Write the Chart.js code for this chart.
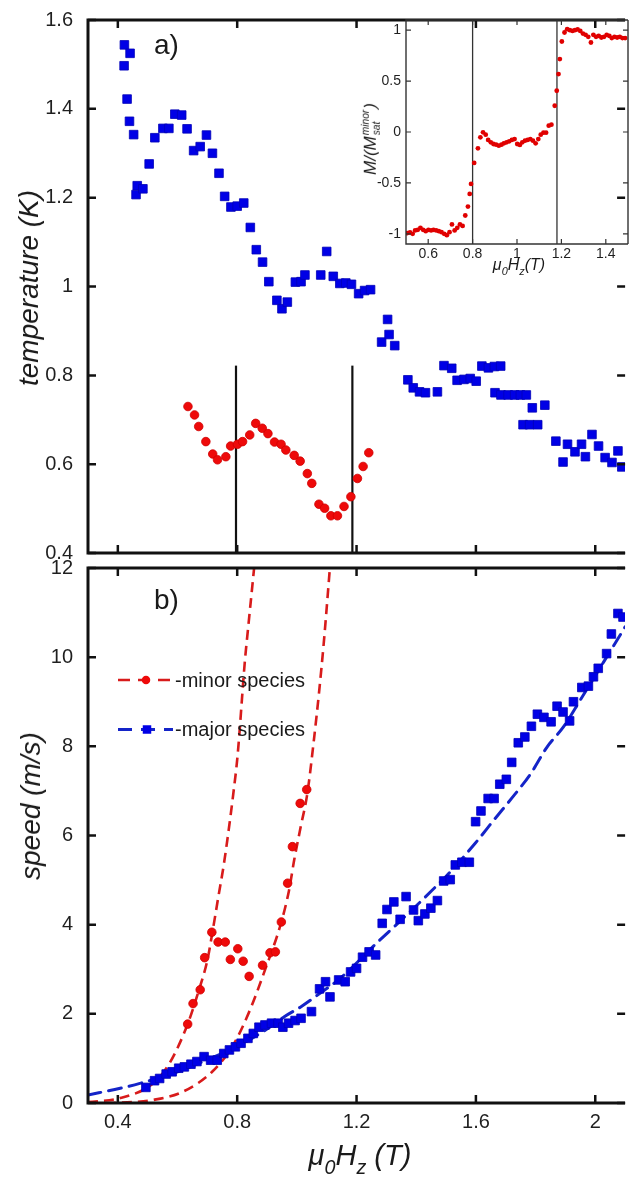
<!DOCTYPE html>
<html>
<head>
<meta charset="utf-8">
<title>temperature and speed vs field</title>
<script src="https://cdn.jsdelivr.net/npm/chart.js@4.4.1/dist/chart.umd.min.js"></script>
<style>
  html, body { margin: 0; padding: 0; background: #fff; overflow: hidden; }
  body { position: relative; width: 632px; height: 1190px; font-family: "Liberation Sans", Arial, Helvetica, sans-serif; color: #1a1a1a; }
  canvas { position: absolute; }
  .txt { position: absolute; white-space: nowrap; line-height: 1; }
  .it { font-style: italic; }
  .rot { transform: translate(-50%, -50%) rotate(-90deg); }
  .sub { font-size: 0.68em; vertical-align: -0.45em; }
  .stack { display: inline-flex; flex-direction: column; font-size: 0.6em; line-height: 1.1; vertical-align: 7px; margin-left: 1px; margin-right: 1px; }
</style>
</head>
<body>
<canvas id="top" width="632" height="560" style="left:0;top:0"></canvas>
<canvas id="bottom" width="632" height="630" style="left:0;top:560px"></canvas>
<canvas id="inset" width="272" height="276" style="left:360px;top:10px"></canvas>

<div class="txt" style="left:154px;top:31px;font-size:28px">a)</div>
<div class="txt" style="left:154px;top:586px;font-size:28px">b)</div>
<div class="txt it rot" style="left:29px;top:288px;font-size:28px">temperature (K)</div>
<div class="txt it rot" style="left:31px;top:806px;font-size:28px">speed (m/s)</div>
<div class="txt it" style="left:360px;top:1141px;font-size:29px;transform:translateX(-50%)">&mu;<span class="sub">0</span>H<span class="sub">z</span> (T)</div>
<div class="txt" style="left:175px;top:670px;font-size:20px">-minor species</div>
<div class="txt" style="left:175px;top:719px;font-size:20px">-major species</div>
<div class="txt it rot" style="left:371px;top:139px;font-size:17px">M/(M<span class="stack"><span>minor</span><span>sat</span></span>)</div>
<div class="txt it" style="left:519px;top:257px;font-size:16px;transform:translateX(-50%)">&mu;<span class="sub">0</span>H<span class="sub">z</span>(T)</div>

<script>
// ---- panel a) : temperature, major species (blue squares)
const majorTempX = [0.421, 0.422, 0.431, 0.439, 0.441, 0.453, 0.461, 0.465, 0.484, 0.505, 0.524, 0.551, 0.571, 0.591, 0.614, 0.632, 0.654, 0.676, 0.697, 0.717, 0.739, 0.758, 0.779, 0.800, 0.822, 0.844, 0.864, 0.885, 0.906, 0.933, 0.950, 0.968, 0.995, 1.014, 1.027, 1.080, 1.100, 1.122, 1.144, 1.164, 1.183, 1.207, 1.227, 1.247, 1.284, 1.304, 1.309, 1.328, 1.372, 1.390, 1.411, 1.431, 1.471, 1.493, 1.519, 1.537, 1.560, 1.581, 1.601, 1.620, 1.642, 1.662, 1.683, 1.664, 1.684, 1.708, 1.730, 1.749, 1.769, 1.758, 1.780, 1.807, 1.789, 1.831, 1.868, 1.892, 1.907, 1.932, 1.954, 1.967, 1.989, 2.011, 2.033, 2.056, 2.076, 2.089];
const majorTempY = [1.497, 1.544, 1.422, 1.372, 1.525, 1.342, 1.207, 1.227, 1.220, 1.276, 1.335, 1.356, 1.356, 1.388, 1.386, 1.355, 1.306, 1.315, 1.341, 1.300, 1.255, 1.203, 1.179, 1.181, 1.188, 1.133, 1.083, 1.055, 1.011, 0.969, 0.950, 0.965, 1.010, 1.011, 1.026, 1.026, 1.079, 1.023, 1.007, 1.008, 1.005, 0.984, 0.991, 0.993, 0.875, 0.926, 0.892, 0.867, 0.790, 0.772, 0.763, 0.761, 0.763, 0.822, 0.816, 0.789, 0.791, 0.793, 0.787, 0.821, 0.817, 0.820, 0.821, 0.761, 0.756, 0.756, 0.756, 0.756, 0.756, 0.689, 0.689, 0.689, 0.727, 0.733, 0.652, 0.605, 0.645, 0.628, 0.645, 0.617, 0.667, 0.641, 0.615, 0.604, 0.630, 0.594];

// ---- panel a) : temperature, minor species (red circles)
const minorTempX = [0.635, 0.657, 0.671, 0.695, 0.718, 0.734, 0.762, 0.778, 0.801, 0.818, 0.842, 0.862, 0.884, 0.903, 0.925, 0.947, 0.963, 0.991, 1.011, 1.035, 1.050, 1.074, 1.093, 1.114, 1.136, 1.158, 1.181, 1.203, 1.222, 1.241];
const minorTempY = [0.730, 0.711, 0.685, 0.651, 0.623, 0.610, 0.617, 0.641, 0.645, 0.651, 0.666, 0.692, 0.681, 0.669, 0.650, 0.645, 0.632, 0.620, 0.607, 0.579, 0.557, 0.510, 0.501, 0.484, 0.484, 0.505, 0.527, 0.568, 0.595, 0.626];

// vertical markers in panel a)
const stepFieldsA = [0.796, 1.186];
const stepLineTop = 0.822;

// ---- inset : normalised magnetisation
const insetX = [0.506, 0.518, 0.530, 0.541, 0.553, 0.565, 0.577, 0.589, 0.601, 0.613, 0.624, 0.636, 0.648, 0.660, 0.672, 0.684, 0.696, 0.707, 0.719, 0.731, 0.743, 0.755, 0.767, 0.779, 0.787, 0.793, 0.807, 0.824, 0.835, 0.847, 0.859, 0.870, 0.882, 0.894, 0.906, 0.918, 0.930, 0.941, 0.953, 0.965, 0.977, 0.989, 1.001, 1.013, 1.024, 1.036, 1.048, 1.060, 1.072, 1.084, 1.096, 1.107, 1.119, 1.131, 1.143, 1.155, 1.170, 1.179, 1.187, 1.193, 1.202, 1.214, 1.226, 1.238, 1.250, 1.261, 1.273, 1.285, 1.297, 1.309, 1.321, 1.333, 1.344, 1.356, 1.368, 1.380, 1.392, 1.404, 1.416, 1.427, 1.439, 1.451, 1.463, 1.475, 1.487];
const insetY = [-0.993, -0.987, -1.000, -0.967, -0.961, -0.941, -0.961, -0.974, -0.961, -0.967, -0.961, -0.967, -0.974, -0.984, -1.000, -1.013, -0.984, -0.908, -0.967, -0.941, -0.908, -0.922, -0.820, -0.732, -0.608, -0.510, -0.304, -0.160, -0.052, -0.003, -0.026, -0.078, -0.101, -0.118, -0.124, -0.134, -0.124, -0.111, -0.101, -0.092, -0.078, -0.069, -0.118, -0.127, -0.101, -0.085, -0.078, -0.069, -0.085, -0.111, -0.069, -0.026, -0.007, -0.007, 0.062, 0.072, 0.258, 0.405, 0.569, 0.716, 0.889, 0.977, 1.010, 1.000, 0.993, 1.000, 1.007, 0.993, 0.967, 0.954, 0.935, 0.879, 0.954, 0.935, 0.944, 0.928, 0.935, 0.954, 0.944, 0.922, 0.935, 0.928, 0.935, 0.922, 0.922];
const stepFieldsInset = [0.8, 1.18];

// ---- panel b) : speed
const minorSpeedX = [0.634, 0.652, 0.676, 0.691, 0.715, 0.736, 0.760, 0.777, 0.802, 0.820, 0.840, 0.885, 0.910, 0.928, 0.948, 0.969, 0.985, 1.011, 1.033];
const minorSpeedY = [1.77, 2.23, 2.54, 3.26, 3.83, 3.61, 3.61, 3.22, 3.46, 3.18, 2.84, 3.09, 3.37, 3.39, 4.06, 4.93, 5.75, 6.72, 7.03];

const majorSpeedX = [0.494, 0.523, 0.540, 0.562, 0.582, 0.604, 0.623, 0.645, 0.665, 0.689, 0.711, 0.733, 0.755, 0.774, 0.794, 0.813, 0.836, 0.854, 0.873, 0.893, 0.915, 0.937, 0.953, 0.972, 0.994, 1.014, 1.049, 1.076, 1.096, 1.111, 1.140, 1.162, 1.180, 1.200, 1.220, 1.242, 1.264, 1.286, 1.302, 1.325, 1.346, 1.366, 1.391, 1.407, 1.429, 1.449, 1.471, 1.492, 1.514, 1.531, 1.553, 1.578, 1.599, 1.617, 1.641, 1.661, 1.680, 1.702, 1.720, 1.742, 1.764, 1.786, 1.806, 1.828, 1.852, 1.872, 1.892, 1.914, 1.927, 1.955, 1.977, 1.994, 2.010, 2.038, 2.054, 2.076, 2.093];
const majorSpeedY = [0.35, 0.50, 0.55, 0.65, 0.70, 0.78, 0.81, 0.87, 0.93, 1.04, 0.96, 0.96, 1.11, 1.19, 1.26, 1.34, 1.45, 1.56, 1.70, 1.75, 1.79, 1.79, 1.70, 1.79, 1.85, 1.90, 2.05, 2.56, 2.72, 2.38, 2.76, 2.72, 2.94, 3.02, 3.27, 3.39, 3.32, 4.03, 4.34, 4.51, 4.12, 4.63, 4.33, 4.09, 4.24, 4.37, 4.54, 4.98, 5.01, 5.34, 5.40, 5.40, 6.31, 6.55, 6.83, 6.83, 7.15, 7.26, 7.64, 8.08, 8.21, 8.45, 8.72, 8.65, 8.55, 8.90, 8.77, 8.57, 9.00, 9.32, 9.35, 9.56, 9.75, 10.08, 10.52, 10.98, 10.90];

// dashed fit curves
const minorFitAX = [0.300, 0.408, 0.518, 0.573, 0.634, 0.672, 0.700, 0.715, 0.737, 0.754, 0.770, 0.787, 0.801, 0.826, 0.837, 0.856, 0.870];
const minorFitAY = [0.02, 0.11, 0.44, 0.89, 1.77, 2.54, 3.20, 3.75, 4.63, 5.30, 6.05, 6.94, 7.77, 9.93, 10.68, 11.95, 12.90];
const minorFitBX = [0.360, 0.450, 0.520, 0.617, 0.716, 0.783, 0.838, 0.893, 0.948, 0.974, 0.991, 1.013, 1.035, 1.057, 1.074, 1.090, 1.110, 1.120];
const minorFitBY = [0.00, 0.02, 0.07, 0.25, 0.70, 1.26, 2.01, 2.98, 4.06, 4.78, 5.45, 6.20, 6.94, 8.14, 9.19, 10.31, 11.95, 12.80];
const majorFitX = [0.300, 0.408, 0.474, 0.600, 0.700, 0.800, 0.900, 0.959, 1.014, 1.069, 1.146, 1.277, 1.332, 1.409, 1.465, 1.498, 1.597, 1.663, 1.729, 1.784, 1.839, 1.894, 1.950, 2.004, 2.049, 2.093, 2.100];
const majorFitY = [0.18, 0.33, 0.44, 0.70, 0.97, 1.27, 1.66, 1.94, 2.16, 2.42, 2.80, 3.65, 3.99, 4.48, 4.85, 5.07, 5.82, 6.37, 6.91, 7.39, 7.99, 8.44, 9.04, 9.63, 10.12, 10.60, 10.68];

// ---- axes
const fieldTicks = [0.4, 0.8, 1.2, 1.6, 2];
const tempTicks = [0.4, 0.6, 0.8, 1, 1.2, 1.4, 1.6];
const speedTicks = [0, 2, 4, 6, 8, 10, 12];
const insetXTicks = [0.6, 0.8, 1, 1.2, 1.4];
const insetYTicks = [-1, -0.5, 0, 0.5, 1];

const BLUE = '#0000e6';
const RED = '#ee0a0a';

Chart.defaults.font.family = '"Liberation Sans", Arial, Helvetica, sans-serif';
Chart.defaults.color = '#1f1f1f';

function pts(xs, ys) {
    return xs.map((x, i) => ({ x: x, y: ys[i] }));
}

function axis(min, max, ticks, extra) {
    const a = {
        type: 'linear',
        min: min,
        max: max,
        grid: { display: false, drawTicks: false },
        border: { display: false },
        afterBuildTicks: s => { s.ticks = ticks.map(v => ({ value: v })); },
        ticks: { autoSkip: false, maxRotation: 0, font: { size: 20 }, padding: 15, callback: v => String(v) }
    };
    return Object.assign(a, extra || {});
}

// fixed axis sizes so the plot areas sit where the reference has them
function fixW(w) {
    return s => { s.width = w; s.paddingTop = 0; s.paddingBottom = 0; s.paddingLeft = 0; s.paddingRight = 0; };
}
function fixH(h) {
    return s => { s.height = h; s.paddingTop = 0; s.paddingBottom = 0; s.paddingLeft = 0; s.paddingRight = 0; };
}

// frame with inward ticks; right border is outside the picture
const framePlugin = {
    id: 'frame',
    afterDatasetsDraw(chart, args, o) {
        const { ctx, chartArea: a } = chart;
        const x = chart.scales.x, y = chart.scales.y;
        ctx.save();
        ctx.strokeStyle = o.color;
        ctx.lineWidth = o.width;
        ctx.beginPath();
        ctx.moveTo(a.left, a.top);
        ctx.lineTo(a.left, a.bottom);
        ctx.moveTo(a.left - o.width / 2, a.bottom);
        ctx.lineTo(a.right, a.bottom);
        ctx.moveTo(a.left - o.width / 2, a.top);
        ctx.lineTo(a.right, a.top);
        if (o.right) {
            ctx.moveTo(a.right, a.top);
            ctx.lineTo(a.right, a.bottom);
        }
        ctx.stroke();
        ctx.lineWidth = o.tickWidth;
        ctx.beginPath();
        o.xTicks.forEach(v => {
            const px = x.getPixelForValue(v);
            ctx.moveTo(px, a.bottom);
            ctx.lineTo(px, a.bottom - o.tickLen);
            ctx.moveTo(px, a.top);
            ctx.lineTo(px, a.top + o.tickLen);
        });
        o.yTicks.forEach(v => {
            const py = y.getPixelForValue(v);
            ctx.moveTo(a.left, py);
            ctx.lineTo(a.left + o.tickLen, py);
            ctx.moveTo(a.right, py);
            ctx.lineTo(a.right - o.tickLen, py);
        });
        ctx.stroke();
        ctx.restore();
    }
};

// legend samples (the legend text is in the page)
const legendPlugin = {
    id: 'speedLegend',
    afterDraw(chart, args, o) {
        const ctx = chart.ctx;
        o.rows.forEach(r => {
            ctx.save();
            ctx.strokeStyle = r.line;
            ctx.lineWidth = r.lw;
            ctx.lineCap = 'butt';
            ctx.setLineDash(r.dash);
            ctx.beginPath();
            ctx.moveTo(r.x0, r.y);
            ctx.lineTo(r.x1, r.y);
            ctx.stroke();
            ctx.setLineDash([]);
            ctx.fillStyle = r.fill;
            ctx.beginPath();
            if (r.square) {
                ctx.rect(r.xm - r.size / 2, r.y - r.size / 2, r.size, r.size);
            } else {
                ctx.arc(r.xm, r.y, r.size / 2, 0, Math.PI * 2);
            }
            ctx.fill();
            ctx.restore();
        });
    }
};

function markerLines(xs, y0, y1, color, width) {
    return xs.map(v => ({
        data: [{ x: v, y: y0 }, { x: v, y: y1 }],
        showLine: true, borderColor: color, borderWidth: width, pointRadius: 0, pointHoverRadius: 0
    }));
}

const baseOptions = {
    responsive: false,
    animation: false,
    events: [],
    plugins: { legend: { display: false }, tooltip: { enabled: false } }
};

// ---- panel a)
new Chart(document.getElementById('top'), {
    type: 'scatter',
    data: {
        datasets: [
            { data: pts(minorTempX, minorTempY), pointStyle: 'circle', pointRadius: 4.3, backgroundColor: RED, borderColor: '#d00000', borderWidth: 0.8 },
            { data: pts(majorTempX, majorTempY), pointStyle: 'rect', pointRadius: 6.1, backgroundColor: BLUE, borderColor: '#0000b8', borderWidth: 0.8 }
        ].concat(markerLines(stepFieldsA, 0.4, stepLineTop, '#111', 2.2))
    },
    options: Object.assign({}, baseOptions, {
        layout: { padding: { top: 20, right: 0, left: 0, bottom: 0 } },
        scales: {
            x: axis(0.3, 2.1, fieldTicks, { ticks: { display: false }, afterFit: fixH(6) }),
            y: axis(0.4, 1.6, tempTicks, { afterFit: fixW(88) })
        },
        plugins: Object.assign({}, baseOptions.plugins, {
            frame: { color: '#111', width: 3, tickWidth: 2.5, tickLen: 8, xTicks: fieldTicks, yTicks: tempTicks, right: false }
        })
    }),
    plugins: [framePlugin]
});

// ---- inset
new Chart(document.getElementById('inset'), {
    type: 'scatter',
    data: {
        datasets: [
            { data: pts(insetX, insetY), pointStyle: 'circle', pointRadius: 2.4, backgroundColor: '#e00000', borderWidth: 0 }
        ].concat(markerLines(stepFieldsInset, -1.1, 1.1, '#333', 1.3))
    },
    options: Object.assign({}, baseOptions, {
        layout: { padding: { top: 10, right: 0, left: 0, bottom: 0 } },
        scales: {
            x: axis(0.5, 1.5, insetXTicks, { ticks: { autoSkip: false, maxRotation: 0, font: { size: 14 }, padding: 2, callback: v => String(v) }, afterFit: fixH(42) }),
            y: axis(-1.1, 1.1, insetYTicks, { ticks: { autoSkip: false, font: { size: 14 }, padding: 5, callback: v => String(v) }, afterFit: fixW(46) })
        },
        plugins: Object.assign({}, baseOptions.plugins, {
            frame: { color: '#333', width: 1.4, tickWidth: 1.2, tickLen: 5, xTicks: insetXTicks, yTicks: insetYTicks, right: true }
        })
    }),
    plugins: [framePlugin]
});

// ---- panel b)
new Chart(document.getElementById('bottom'), {
    type: 'scatter',
    data: {
        datasets: [
            { data: pts(minorSpeedX, minorSpeedY), pointStyle: 'circle', pointRadius: 4.3, backgroundColor: RED, borderColor: '#d00000', borderWidth: 0.8 },
            { data: pts(majorSpeedX, majorSpeedY), pointStyle: 'rect', pointRadius: 6.1, backgroundColor: BLUE, borderColor: '#0000b8', borderWidth: 0.8 },
            { data: pts(minorFitAX, minorFitAY), showLine: true, cubicInterpolationMode: 'monotone', borderColor: '#d81b1b', borderWidth: 2.6, borderDash: [10, 6], pointRadius: 0, pointHoverRadius: 0 },
            { data: pts(minorFitBX, minorFitBY), showLine: true, cubicInterpolationMode: 'monotone', borderColor: '#d81b1b', borderWidth: 2.6, borderDash: [10, 6], pointRadius: 0, pointHoverRadius: 0 },
            { data: pts(majorFitX, majorFitY), showLine: true, cubicInterpolationMode: 'monotone', borderColor: '#1424c8', borderWidth: 3, borderDash: [13, 8], borderCapStyle: 'round', pointRadius: 0, pointHoverRadius: 0 }
        ]
    },
    options: Object.assign({}, baseOptions, {
        layout: { padding: { top: 8, right: 0, left: 0, bottom: 0 } },
        scales: {
            x: axis(0.3, 2.1, fieldTicks, { ticks: { autoSkip: false, maxRotation: 0, font: { size: 20 }, padding: 7, callback: v => String(v) }, afterFit: fixH(87) }),
            y: axis(0, 12, speedTicks, { afterFit: fixW(88) })
        },
        plugins: Object.assign({}, baseOptions.plugins, {
            frame: { color: '#111', width: 3, tickWidth: 2.5, tickLen: 8, xTicks: fieldTicks, yTicks: speedTicks, right: false },
            speedLegend: {
                rows: [
                    { y: 120, x0: 118, x1: 173, xm: 146, line: '#d81b1b', lw: 2.6, dash: [12, 8], fill: RED, size: 8.5, square: false },
                    { y: 169.5, x0: 118, x1: 173, xm: 147, line: '#1424c8', lw: 3, dash: [14, 9], fill: BLUE, size: 8.5, square: true }
                ]
            }
        })
    }),
    plugins: [framePlugin, legendPlugin]
});
</script>
</body>
</html>
